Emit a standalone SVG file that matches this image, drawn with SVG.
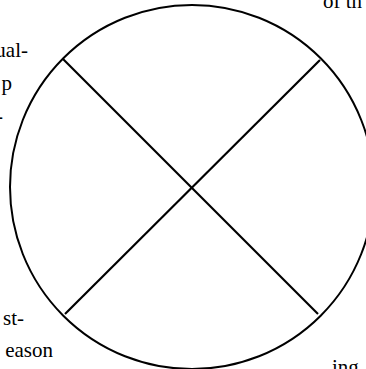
<svg xmlns="http://www.w3.org/2000/svg" width="366" height="369" viewBox="0 0 366 369">
<style>
text{font-family:"Liberation Serif","Times New Roman",serif;font-size:21px;fill:#000}
.c{fill:none;stroke:#000;stroke-width:2}
.l{stroke:#000;stroke-width:2.2;fill:none}
</style>
<rect width="366" height="369" fill="#fff"/>
<g id="labels">
<text x="28" y="57" text-anchor="end">ual-</text>
<text x="12" y="90" text-anchor="end">p</text>
<text x="3" y="123" text-anchor="end">-</text>
<text x="24" y="325" text-anchor="end">st-</text>
<text x="53" y="357" text-anchor="end">eason</text>
<text x="323" y="8">of th</text>
<text x="332" y="374">ing</text>
</g>
<g id="circle">
<circle class="c" cx="192" cy="187" r="182"/>
</g>
<g id="connectors">
<line class="l" x1="63" y1="59" x2="318" y2="314"/>
<line class="l" x1="320" y1="60" x2="65" y2="314"/>
</g>
</svg>
